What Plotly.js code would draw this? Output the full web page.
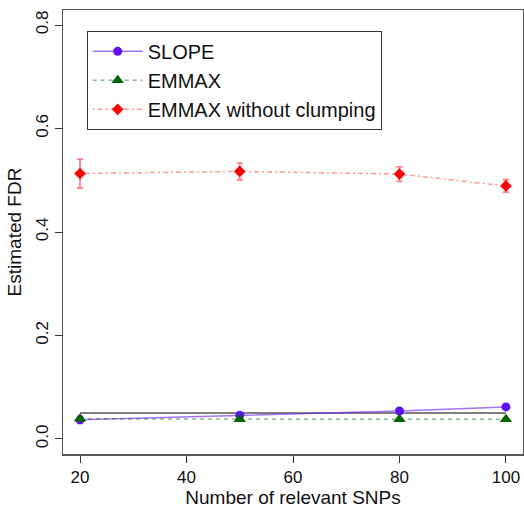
<!DOCTYPE html>
<html>
<head>
<meta charset="utf-8">
<script src="https://cdn.plot.ly/plotly-3.0.1.min.js"></script>
<style>html,body{margin:0;padding:0;background:#fff;}#chart{width:524px;height:508px;}</style>
</head>
<body>
<div id="chart"></div>
<script>
const snps = [20, 50, 80, 100];
const slopeFDR = [0.037, 0.046, 0.054, 0.062];
const slopeErr = [0.007, 0.003, 0.003, 0.004];
const emmaxFDR = [0.039, 0.038, 0.038, 0.038];
const emmaxErr = [0.004, 0.003, 0.003, 0.003];
const noClumpFDR = [0.513, 0.517, 0.512, 0.489];
const noClumpErr = [0.028, 0.016, 0.014, 0.012];
const nominalLevel = 0.05;
const xTicks = [20, 40, 60, 80, 100];
const yTicks = [0.0, 0.2, 0.4, 0.6, 0.8];
const yTickText = ['0.0', '0.2', '0.4', '0.6', '0.8'];

const traces = [
  {
    x: [snps[0], snps[snps.length - 1]], y: [nominalLevel, nominalLevel],
    mode: 'lines', line: {color: '#7f7f7f', width: 2}, showlegend: false, hoverinfo: 'skip'
  },
  {
    x: snps, y: slopeFDR, name: 'SLOPE', mode: 'lines+markers',
    line: {color: 'rgba(110,40,255,0.65)', width: 1.5},
    marker: {symbol: 'circle', size: 9, color: '#6010f5'},
    error_y: {type: 'data', array: slopeErr, visible: true, color: 'rgba(100,30,255,0.6)', thickness: 1.5, width: 3}
  },
  {
    x: snps, y: emmaxFDR, name: 'EMMAX', mode: 'lines+markers',
    line: {color: 'rgba(0,100,0,0.45)', width: 1.5, dash: '4px,4px'},
    marker: {symbol: 'triangle-up', size: 11, color: '#006400'},
    error_y: {type: 'data', array: emmaxErr, visible: true, color: 'rgba(0,100,0,0.5)', thickness: 1.5, width: 3}
  },
  {
    x: snps, y: noClumpFDR, name: 'EMMAX without clumping', mode: 'lines+markers',
    line: {color: 'rgba(255,0,0,0.4)', width: 1.5, dash: '2px,3px,5px,3px'},
    marker: {symbol: 'diamond', size: 9, color: '#ff0000'},
    error_y: {type: 'data', array: noClumpErr, visible: true, color: 'rgba(255,0,0,0.5)', thickness: 1.8, width: 3}
  }
];

const layout = {
  width: 524, height: 508,
  margin: {l: 63, r: 1, t: 10, b: 54},
  paper_bgcolor: '#fff', plot_bgcolor: '#fff',
  font: {family: '"Liberation Sans", Arial, sans-serif', color: '#111'},
  showlegend: true,
  legend: {
    x: 0.0515, y: 0.953, xanchor: 'left', yanchor: 'top',
    bgcolor: '#fff', bordercolor: '#333', borderwidth: 1,
    font: {size: 20, color: '#111'}, itemwidth: 50, tracegroupgap: 0
  },
  xaxis: {
    range: [16.8, 103.2], tickvals: xTicks, ticks: 'outside', ticklen: 7, tickwidth: 1, tickcolor: '#333',
    showgrid: false, zeroline: false, showline: true, mirror: true, linecolor: '#555', linewidth: 1.5,
    tickfont: {size: 17, color: '#111'},
    title: {text: 'Number of relevant SNPs', font: {size: 19, color: '#111'}, standoff: 9}
  },
  yaxis: {
    range: [-0.029, 0.829], tickvals: yTicks, ticktext: yTickText, tickangle: -90,
    ticks: 'outside', ticklen: 7, tickwidth: 1, tickcolor: '#333',
    showgrid: false, zeroline: false, showline: true, mirror: true, linecolor: '#555', linewidth: 1.5,
    tickfont: {size: 17, color: '#111'},
    title: {text: 'Estimated FDR', font: {size: 19, color: '#111'}, standoff: 6}
  }
};

Plotly.newPlot('chart', traces, layout, {displayModeBar: false, staticPlot: true});
</script>
</body>
</html>
